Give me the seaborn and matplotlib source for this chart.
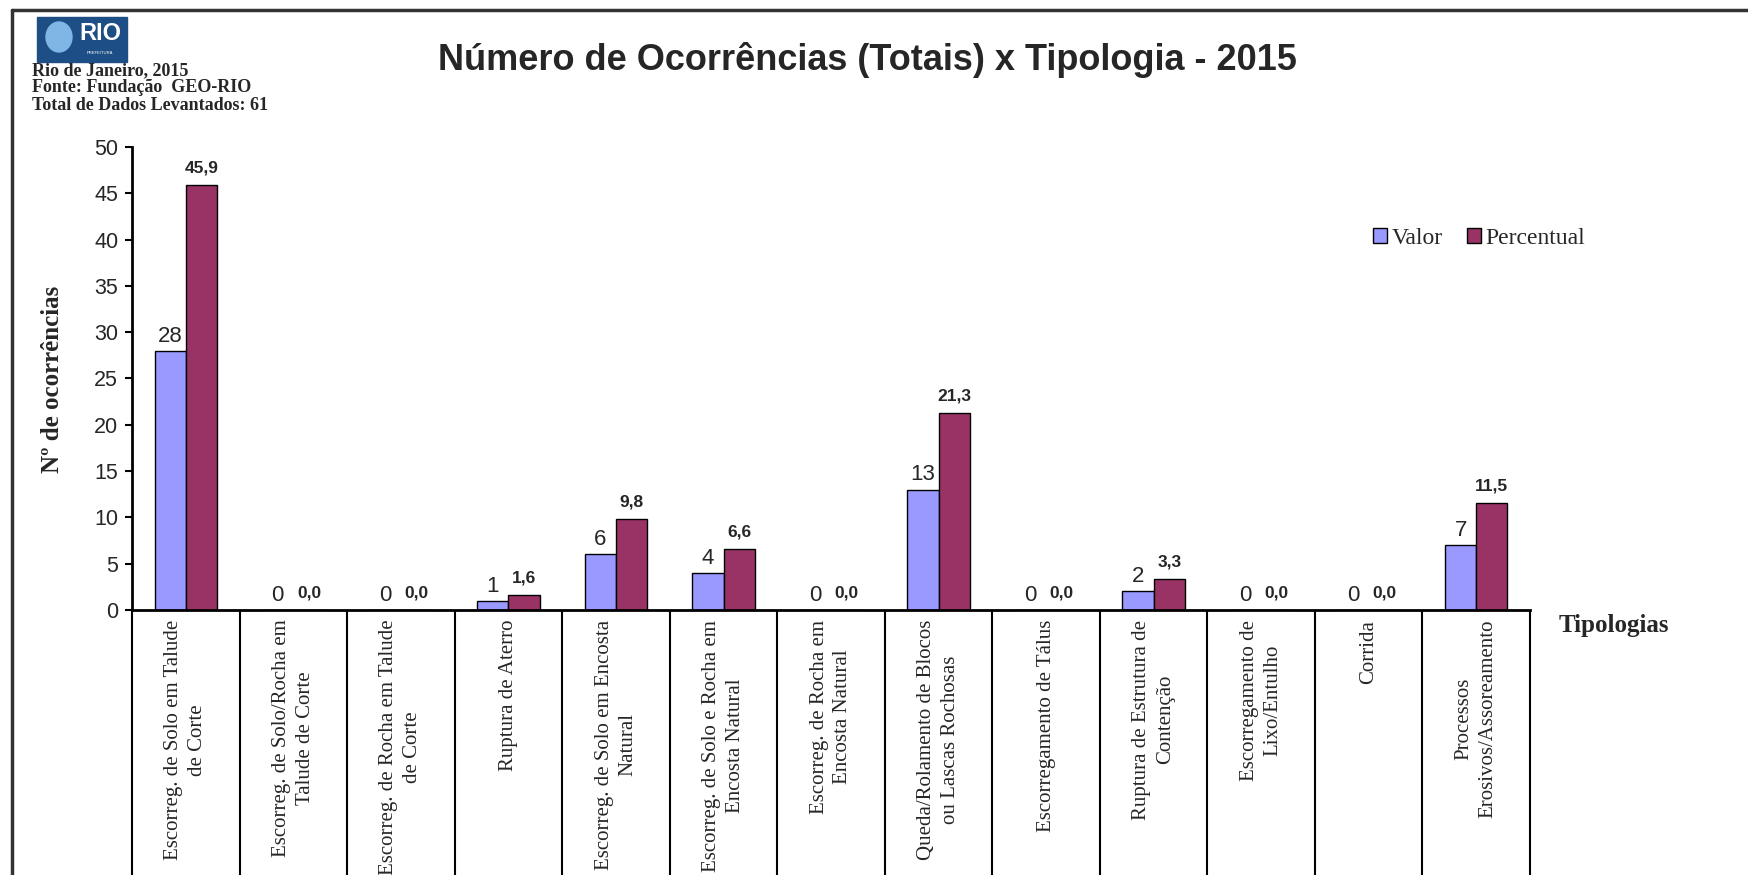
import matplotlib
matplotlib.use("Agg")
import numpy as np
import pandas as pd
import matplotlib.pyplot as plt
import seaborn as sns
from matplotlib.patches import Patch, Rectangle, Ellipse
from matplotlib.lines import Line2D

categorias = [
    "Escorreg. de Solo em Talude\nde Corte",
    "Escorreg. de Solo/Rocha em\nTalude de Corte",
    "Escorreg. de Rocha em Talude\nde Corte",
    "Ruptura de Aterro",
    "Escorreg. de Solo em Encosta\nNatural",
    "Escorreg. de Solo e Rocha em\nEncosta Natural",
    "Escorreg. de Rocha em\nEncosta Natural",
    "Queda/Rolamento de Blocos\nou Lascas Rochosas",
    "Escorregamento de Tálus",
    "Ruptura de Estrutura de\nContenção",
    "Escorregamento de\nLixo/Entulho",
    "Corrida",
    "Processos\nErosivos/Assoreamento",
]
valor = [28, 0, 0, 1, 6, 4, 0, 13, 0, 2, 0, 0, 7]
percentual = [45.9, 0.0, 0.0, 1.6, 9.8, 6.6, 0.0, 21.3, 0.0, 3.3, 0.0, 0.0, 11.5]
series = ["Valor", "Percentual"]
cores = ["#9999FF", "#993366"]

df = pd.DataFrame({
    "Tipologia": categorias * 2,
    "Serie": ["Valor"] * len(categorias) + ["Percentual"] * len(categorias),
    "Ocorrencias": valor + percentual,
})

sns.set_style("white")
serif = "Liberation Serif"
sans = "Liberation Sans"

fig = plt.figure(figsize=(17.49, 8.75), dpi=100)
ax = fig.add_axes([0.0755, 0.3029, 0.7993, 0.5291])

sns.barplot(data=df, x="Tipologia", y="Ocorrencias", hue="Serie", hue_order=series,
            palette=cores, width=0.58, saturation=1, edgecolor="black", linewidth=1,
            legend=False, ax=ax)

ax.bar_label(ax.containers[0], labels=[str(v) for v in valor], padding=3,
             fontsize=16, family=sans)
ax.bar_label(ax.containers[1], labels=[f"{v:.1f}".replace(".", ",") for v in percentual],
             padding=7, fontsize=12.5, fontweight="bold", family=sans)

ax.set_xlim(-0.5, len(categorias) - 0.5)
ax.set_ylim(0, 50)
ax.set_yticks(range(0, 51, 5))
ax.set_xticks(range(len(categorias)), labels=categorias, rotation=90, fontsize=15,
              family=serif, linespacing=1.35, multialignment="center")
ax.set_xticks(np.arange(-0.5, len(categorias), 1), minor=True)
ax.tick_params(axis="x", which="major", bottom=False, length=0, pad=7)
ax.tick_params(axis="x", which="minor", bottom=True, length=200, width=1.5,
               color="black", direction="out")
ax.tick_params(axis="y", left=True, length=5, width=1.5, color="black", direction="out",
               pad=5, labelsize=15.5)
for t in ax.get_yticklabels():
    t.set_family(sans)
ax.set_xlabel("")
ax.set_ylabel("")
for s in ["top", "right"]:
    ax.spines[s].set_visible(False)
for s in ["left", "bottom"]:
    ax.spines[s].set_linewidth(2)
    ax.spines[s].set_color("black")

fig.text(0.03, 0.566, "Nº de ocorrências", rotation=90, ha="center", va="center",
         fontsize=18, fontweight="bold", family=serif)
fig.text(0.891, 0.2857, "Tipologias", ha="left", va="center", fontsize=18,
         fontweight="bold", family=serif)
fig.text(0.496, 0.932, "Número de Ocorrências (Totais) x Tipologia - 2015", ha="center",
         va="center", fontsize=26, fontweight="bold", family=sans)

handles = [Patch(facecolor=c, edgecolor="black", label=l) for c, l in zip(cores, series)]
fig.legend(handles=handles, loc="center left", bbox_to_anchor=(1352 / 1749, 1 - 238 / 875),
           ncol=2, frameon=False, prop={"family": serif, "size": 17}, handlelength=0.6,
           handleheight=0.6, handletextpad=0.2, columnspacing=1.0)

# moldura e cabeçalho
fig.add_artist(Line2D([12 / 1749, 1], [1 - 10 / 875] * 2, color="#333333", lw=2.5,
                      transform=fig.transFigure))
fig.add_artist(Line2D([12 / 1749] * 2, [0, 1 - 10 / 875], color="#333333", lw=2.5,
                      transform=fig.transFigure))
fig.add_artist(Rectangle((37 / 1749, 1 - 62 / 875), 90 / 1749, 45 / 875, color="#1d4e86",
                         transform=fig.transFigure))
fig.add_artist(Ellipse((59 / 1749, 1 - 37 / 875), 26 / 1749, 30 / 875, color="#7fb6e6",
                       transform=fig.transFigure))
fig.text(100 / 1749, 1 - 34 / 875, "RIO", color="white", ha="center", va="center",
         fontsize=17, fontweight="bold", family=sans)
fig.text(100 / 1749, 1 - 53 / 875, "PREFEITURA", color="white", ha="center", va="center",
         fontsize=3, family=sans)

cab = ["Rio de Janeiro, 2015", "Fonte: Fundação  GEO-RIO", "Total de Dados Levantados: 61"]
for txt, yy in zip(cab, [71, 88, 106]):
    fig.text(32 / 1749, 1 - yy / 875, txt, ha="left", va="center", fontsize=13,
             fontweight="bold", family=serif)

fig.savefig("out.png", dpi=100)
